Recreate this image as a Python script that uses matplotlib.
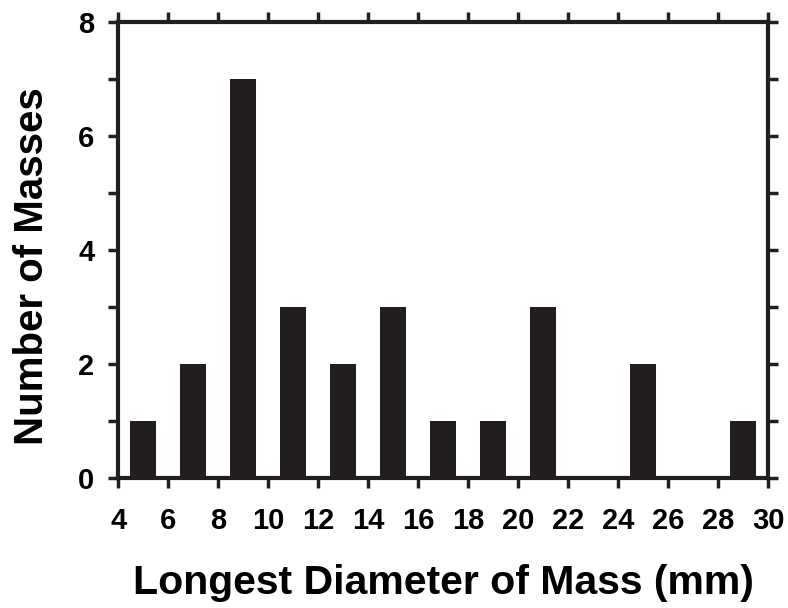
import numpy as np
import matplotlib.pyplot as plt

# bin centres (mm) and counts
diameters = [5, 7, 9, 11, 13, 15, 17, 19, 21, 25, 29]
counts = [1, 2, 7, 3, 2, 3, 1, 1, 3, 2, 1]
x_ticks = list(range(4, 31, 2))
y_ticks = [0, 2, 4, 6, 8]

plt.rcParams['font.family'] = ['Liberation Sans', 'DejaVu Sans']
plt.rcParams['font.weight'] = 'bold'

fig = plt.figure(figsize=(7.88, 6.08), dpi=100)
ax = fig.add_axes([0.150, 0.214, 0.825, 0.750])

ax.bar(diameters, counts, width=1.05, color='#221e1f', edgecolor='none')

ax.set_xlim(4, 30)
ax.set_ylim(0, 8)
ax.set_xticks(x_ticks)
ax.set_yticks(y_ticks)
ax.set_yticks(range(0, 9), minor=True)

for side in ['left', 'right', 'top', 'bottom']:
    ax.spines[side].set_linewidth(3)
    ax.spines[side].set_color('#221e1f')

ax.tick_params(which='both', direction='out', length=7, width=2.5, color='#221e1f',
               top=True, right=True, labelsize=21)
ax.tick_params(axis='x', pad=14)
ax.tick_params(axis='y', pad=10)

ax.set_xlabel('Longest Diameter of Mass (mm)', fontsize=29.5, fontweight='bold', labelpad=21)
ax.set_ylabel('Number of Masses', fontsize=29, fontweight='bold')
ax.yaxis.set_label_coords(-0.103, 0.465)

fig.savefig('out.png', dpi=100)
